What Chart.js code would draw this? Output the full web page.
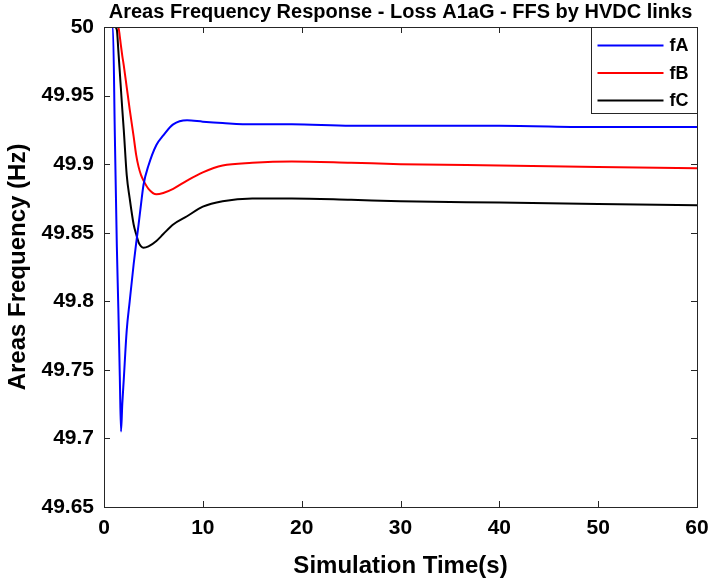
<!DOCTYPE html>
<html>
<head>
<meta charset="utf-8">
<script src="https://cdn.jsdelivr.net/npm/chart.js@4/dist/chart.umd.min.js"></script>
<style>
  html, body { margin: 0; padding: 0; background: #fff; }
  #wrap { width: 710px; height: 581px; }
</style>
</head>
<body>
<div id="wrap"><canvas id="freqChart"></canvas></div>
<script>
// simulation time (s) and the three area frequencies (Hz)
const timeS = [0, 0.9, 1.1, 1.3, 1.45, 1.6, 1.72, 1.85, 2.0, 2.3, 2.6, 3.0, 3.25, 3.5, 3.75, 4.0, 4.5, 5.3, 6, 7, 8.4, 10, 12, 15, 19, 25, 30, 40, 50, 60];
const fA = [50, 50, 49.92, 49.84, 49.795, 49.745, 49.705, 49.725, 49.743, 49.779, 49.800, 49.827, 49.842, 49.856, 49.871, 49.885, 49.899, 49.914, 49.921, 49.929, 49.932, 49.931, 49.930, 49.929, 49.929, 49.928, 49.928, 49.928, 49.927, 49.927];
const fB = [50, 50, 50, 50, 50, 49.993, 49.986, 49.979, 49.972, 49.956, 49.940, 49.920, 49.907, 49.898, 49.892, 49.888, 49.882, 49.878, 49.879, 49.882, 49.888, 49.894, 49.899, 49.901, 49.902, 49.901, 49.900, 49.899, 49.898, 49.897];
const fC = [50, 50, 50, 49.998, 49.983, 49.967, 49.954, 49.940, 49.925, 49.892, 49.875, 49.856, 49.849, 49.843, 49.840, 49.839, 49.840, 49.844, 49.849, 49.856, 49.862, 49.869, 49.873, 49.875, 49.875, 49.874, 49.873, 49.872, 49.871, 49.870];
const seriesNames = ["fA", "fB", "fC"];
const seriesColors = ["#0000ff", "#ff0000", "#000000"];

const FONT = "'Liberation Sans', Arial, sans-serif";

function toPoints(vals) {
    return vals.map((v, i) => ({ x: timeS[i], y: v }));
}

// matlab style box with inward ticks
const boxTicks = {
    id: 'boxTicks',
    afterDatasetsDraw(chart) {
        const ctx = chart.ctx;
        const a = chart.chartArea;
        const xs = chart.scales.x, ys = chart.scales.y;
        const len = 6;
        ctx.save();
        ctx.strokeStyle = '#262626';
        ctx.lineWidth = 1;
        ctx.beginPath();
        xs.ticks.forEach(t => {
            const px = Math.round(xs.getPixelForValue(t.value)) + 0.5;
            ctx.moveTo(px, a.bottom); ctx.lineTo(px, a.bottom - len);
            ctx.moveTo(px, a.top); ctx.lineTo(px, a.top + len);
        });
        ys.ticks.forEach(t => {
            const py = Math.round(ys.getPixelForValue(t.value)) + 0.5;
            ctx.moveTo(a.left, py); ctx.lineTo(a.left + len, py);
            ctx.moveTo(a.right, py); ctx.lineTo(a.right - len, py);
        });
        ctx.stroke();
        ctx.strokeRect(Math.round(a.left) + 0.5, Math.round(a.top) + 0.5,
                       Math.round(a.right - a.left), Math.round(a.bottom - a.top));

        // legend box, top right inside the axes
        const w = 106, rowH = 27.5, h = 86;
        const bx = Math.round(a.right) - w + 0.5, by = Math.round(a.top) + 0.5;
        ctx.fillStyle = '#fff';
        ctx.fillRect(bx, by, w, h);
        ctx.strokeStyle = '#262626';
        ctx.strokeRect(bx, by, w, h);
        ctx.font = 'bold 18px ' + FONT;
        ctx.textBaseline = 'middle';
        chart.data.datasets.forEach((ds, i) => {
            const y = by + 18 + i * rowH;
            ctx.strokeStyle = ds.borderColor;
            ctx.lineWidth = 2;
            ctx.beginPath();
            ctx.moveTo(bx + 6, y); ctx.lineTo(bx + 72, y);
            ctx.stroke();
            ctx.fillStyle = '#000';
            ctx.fillText(ds.label, bx + 78, y + 1);
        });
        ctx.restore();
    }
};

new Chart(document.getElementById('freqChart').getContext('2d'), {
    type: 'line',
    plugins: [boxTicks],
    data: {
        datasets: [
            { label: seriesNames[0], data: toPoints(fA), borderColor: seriesColors[0] },
            { label: seriesNames[1], data: toPoints(fB), borderColor: seriesColors[1] },
            { label: seriesNames[2], data: toPoints(fC), borderColor: seriesColors[2] }
        ]
    },
    options: {
        responsive: true,
        maintainAspectRatio: false,
        animation: false,
        layout: { padding: { left: 0, right: 0, top: 0, bottom: 0 } },
        elements: {
            point: { radius: 0 },
            line: { borderWidth: 2, cubicInterpolationMode: 'monotone', fill: false }
        },
        plugins: {
            legend: { display: false },
            tooltip: { enabled: false },
            title: {
                display: true,
                fullSize: false,
                text: 'Areas Frequency Response - Loss A1aG - FFS by HVDC links',
                color: '#000',
                font: { family: FONT, size: 20, weight: 'bold' },
                padding: { top: 0, bottom: 3 }
            }
        },
        scales: {
            x: {
                type: 'linear',
                min: 0, max: 60,
                afterFit: s => { s.height = 74; s.paddingRight = 13; },
                ticks: {
                    stepSize: 10,
                    color: '#000',
                    padding: 9,
                    maxRotation: 0,
                    font: { family: FONT, size: 21, weight: 'bold' }
                },
                grid: { display: false, drawTicks: false },
                border: { display: false },
                title: {
                    display: true,
                    text: 'Simulation Time(s)',
                    color: '#000',
                    font: { family: FONT, size: 24, weight: 'bold' },
                    padding: { top: 0, bottom: 0 }
                }
            },
            y: {
                min: 49.65, max: 50,
                afterFit: s => { s.width = 104; },
                ticks: {
                    stepSize: 0.05,
                    color: '#000',
                    padding: 10,
                    font: { family: FONT, size: 21, weight: 'bold' },
                    callback: v => String(+(+v).toFixed(2))
                },
                grid: { display: false, drawTicks: false },
                border: { display: false },
                title: {
                    display: true,
                    text: 'Areas Frequency (Hz)',
                    color: '#000',
                    font: { family: FONT, size: 24, weight: 'bold' },
                    padding: { top: 4, bottom: 0 }
                }
            }
        }
    }
});
</script>
</body>
</html>
